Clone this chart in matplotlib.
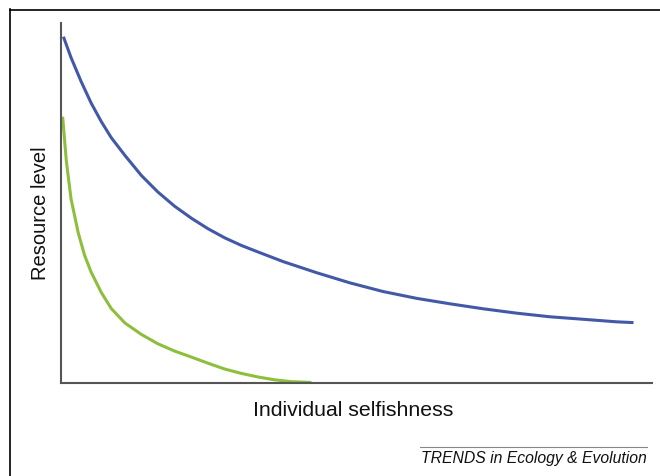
import matplotlib
matplotlib.use("Agg")
import matplotlib.pyplot as plt
from matplotlib.lines import Line2D

# values (x: selfishness 0-100, y: resource level 0-100)
blue_x = [0.5, 1.7, 3.4, 5.1, 6.8, 8.5, 10.8, 13.6, 16.4, 19.2, 22.1, 24.9, 27.7,
          30.5, 33.3, 37.6, 43.3, 48.9, 54.5, 60.2, 65.8, 71.5, 77.1, 82.7, 88.4,
          94.0, 96.6]
blue_y = [95.8, 90.4, 83.8, 77.8, 72.7, 68.2, 63.3, 57.7, 53.1, 49.2, 45.8, 42.9, 40.4,
          38.3, 36.5, 33.8, 30.7, 27.9, 25.5, 23.6, 22.1, 20.7, 19.5, 18.5, 17.8,
          17.1, 16.9]

green_x = [0.3, 0.9, 1.7, 2.9, 4.0, 5.1, 6.8, 8.5, 10.8, 13.6, 16.4, 19.2, 22.1,
           24.9, 27.7, 30.5, 33.3, 36.2, 39.0, 42.1]
green_y = [73.6, 61.8, 51.2, 41.9, 35.5, 30.9, 25.3, 20.8, 16.8, 13.6, 11.0, 9.0, 7.3,
           5.6, 4.0, 2.8, 1.8, 1.0, 0.5, 0.3]

plt.rcParams['font.family'] = ['Liberation Sans', 'DejaVu Sans']

fig = plt.figure(figsize=(6.6, 4.77), dpi=100)
ax = fig.add_axes([0.0924, 0.194, 0.8956, 0.7557])

ax.plot(blue_x, blue_y, color='#4259a8', lw=2.2, solid_joinstyle='round')
ax.plot(green_x, green_y, color='#8dbf3c', lw=2.2, solid_joinstyle='round')

ax.set_xlim(0, 100)
ax.set_ylim(0, 100)
ax.set_xticks([])
ax.set_yticks([])
for side in ['top', 'right']:
    ax.spines[side].set_visible(False)
for side in ['left', 'bottom']:
    ax.spines[side].set_color('#555555')
    ax.spines[side].set_linewidth(1.5)

# axis titles
ax.text(0.494, -0.0735, 'Individual selfishness', transform=ax.transAxes,
        fontsize=15.3, ha='center', va='center', color='#111111')
ax.text(-0.0355, 0.476, 'Resource level', transform=ax.transAxes, rotation=90,
        fontsize=14.5, ha='center', va='center', color='#111111')

# frame lines (top and left only)
fig.add_artist(Line2D([10 / 660, 1], [1 - 10.5 / 477] * 2, color='black', lw=1.2))
fig.add_artist(Line2D([10.5 / 660] * 2, [0, 1 - 10 / 477], color='black', lw=1.2))

# journal footer
fig.add_artist(Line2D([420 / 660, 647 / 660], [1 - 448 / 477] * 2, color='#888888', lw=0.8))
fig.text(647 / 660, 1 - 459 / 477, 'TRENDS in Ecology & Evolution', fontsize=11.3,
         style='italic', ha='right', va='center', color='#111111')

fig.savefig('out.png', dpi=100)
